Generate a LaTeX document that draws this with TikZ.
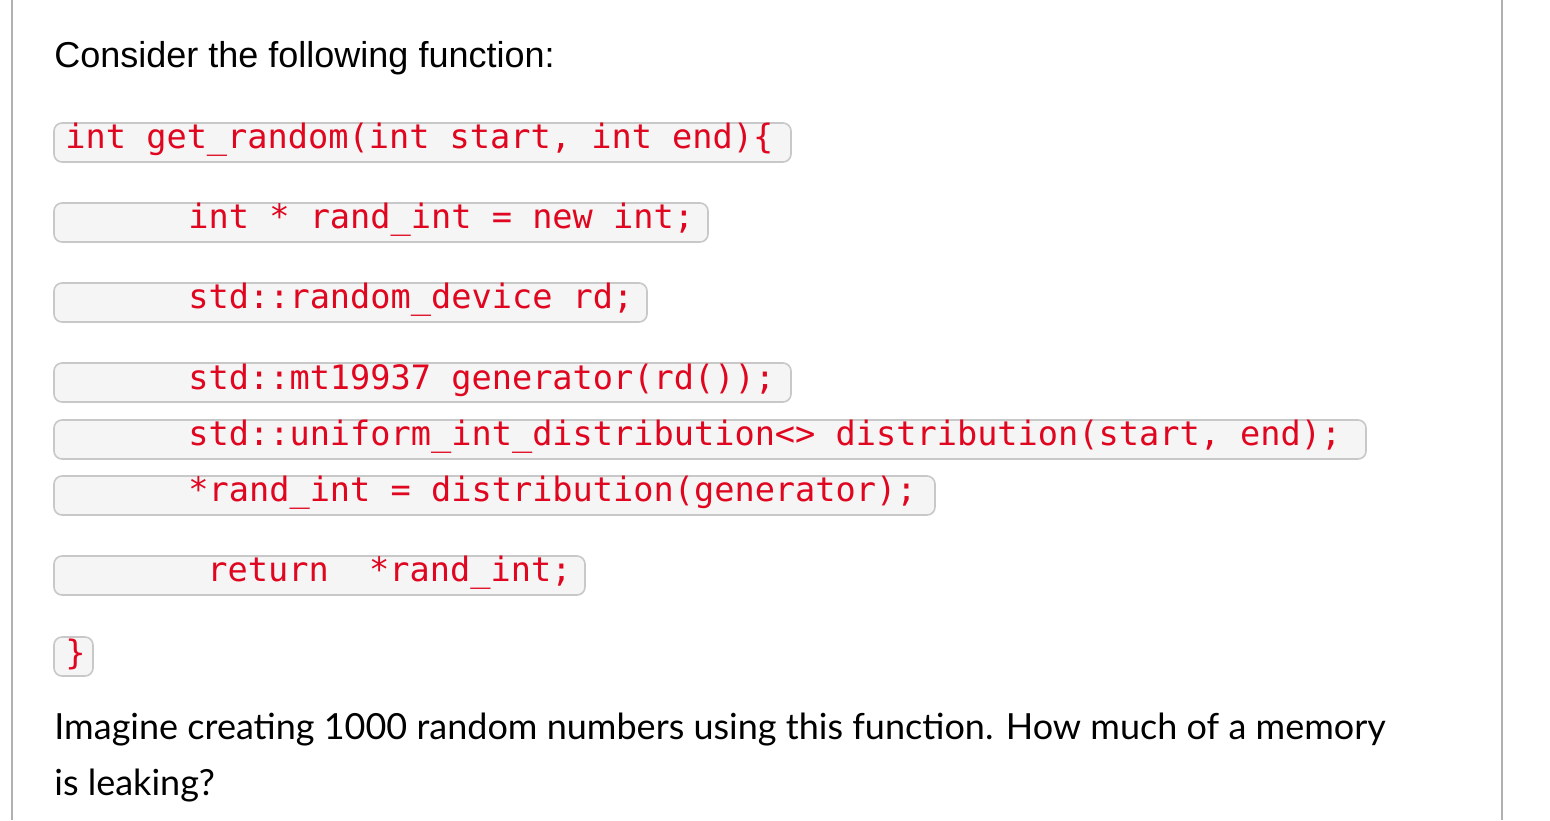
\documentclass[tikz,border=0pt]{standalone}
\usepackage{fontspec}
\setmainfont{Liberation Sans}
\newfontfamily\codefont{DejaVu Sans Mono}
\newfontfamily\latofont{Lato}
\definecolor{codered}{HTML}{E0061F}
\definecolor{boxfill}{HTML}{F5F5F5}
\definecolor{boxline}{HTML}{C8C8C8}
\definecolor{frameline}{HTML}{B0B0B0}
\begin{document}
\begin{tikzpicture}[x=0.5pt,y=-0.5pt,
  cbox/.style={draw=boxline,fill=boxfill,rounded corners=4pt,line width=0.8pt},
  code/.style={anchor=west,inner sep=0pt,font=\codefont\fontsize{16.8}{20}\selectfont,text=codered},
  body/.style={anchor=west,inner sep=0pt,font=\fontsize{18}{22}\selectfont}]
\useasboundingbox (0,0) rectangle (1550,820);
\fill[white] (0,0) rectangle (1550,820);
\draw[frameline,line width=1pt] (12,0) -- (12,820);
\draw[frameline,line width=1pt] (1502,0) -- (1502,820);
\node[body] (t1) at (54,58) {Consider the following function:};
\draw[cbox] (54,123) rectangle (791,162);
\node[code] (c1) at (65,140) {int get\_random(int start, int end)\{};
\draw[cbox] (54,203) rectangle (708,242);
\node[code] (c2) at (188,220) {int * rand\_int = new int;};
\draw[cbox] (54,283) rectangle (647,322);
\node[code] (c3) at (188,300) {std::random\_device rd;};
\draw[cbox] (54,363) rectangle (791,402);
\node[code] (c4) at (188,380) {std::mt19937 generator(rd());};
\draw[cbox] (54,420) rectangle (1366,459);
\node[code] (c5) at (188,437) {std::uniform\_int\_distribution<> distribution(start, end);};
\draw[cbox] (54,476) rectangle (935,515);
\node[code] (c6) at (188,493) {*rand\_int = distribution(generator);};
\draw[cbox] (54,556) rectangle (585,595);
\node[code] (c7) at (207,573) {return\ \ *rand\_int;};
\draw[cbox] (54,637) rectangle (93,676);
\node[code] (c8) at (65,654) {\}};
\node[body,font=\latofont\fontsize{18}{22}\selectfont] (t2) at (54,730) {Imagine creating 1000 random numbers using this function. How much of a memory};
\node[body,font=\latofont\fontsize{18}{22}\selectfont] (t3) at (54,786) {is leaking?};
\end{tikzpicture}
\end{document}
